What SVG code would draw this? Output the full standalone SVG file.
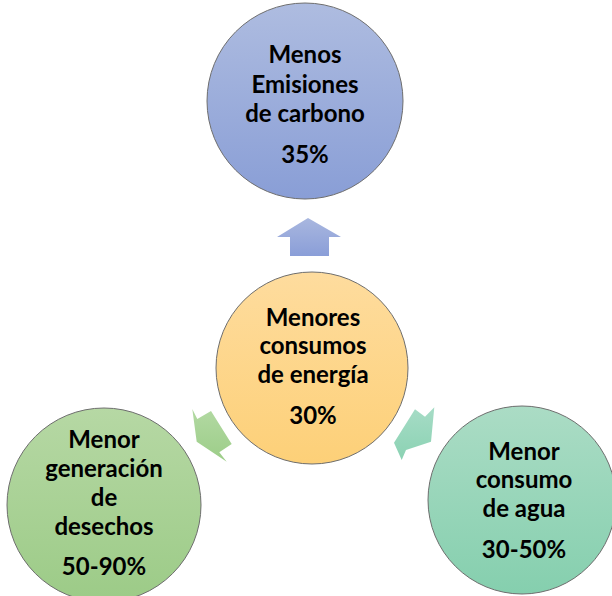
<svg xmlns="http://www.w3.org/2000/svg" width="612" height="596" viewBox="0 0 612 596">
<defs>
<linearGradient id="gBlue" x1="0" y1="0" x2="0" y2="1"><stop offset="0" stop-color="#aebce0"/><stop offset="1" stop-color="#899ed6"/></linearGradient>
<linearGradient id="gOrange" x1="0" y1="0" x2="0" y2="1"><stop offset="0" stop-color="#fedc9e"/><stop offset="1" stop-color="#fdd078"/></linearGradient>
<linearGradient id="gGreen" x1="0" y1="0" x2="0" y2="1"><stop offset="0" stop-color="#b6d8a4"/><stop offset="1" stop-color="#9ccb87"/></linearGradient>
<linearGradient id="gTeal" x1="0" y1="0" x2="0" y2="1"><stop offset="0" stop-color="#abdcc5"/><stop offset="1" stop-color="#85cfae"/></linearGradient>
<linearGradient id="aBlue" x1="0" y1="0" x2="0" y2="1"><stop offset="0" stop-color="#a9b7df"/><stop offset="1" stop-color="#8a9ed8"/></linearGradient>
<linearGradient id="aGreen" x1="0" y1="0" x2="0" y2="1"><stop offset="0" stop-color="#b2d9a2"/><stop offset="1" stop-color="#9ccd88"/></linearGradient>
<linearGradient id="aTeal" x1="0" y1="0" x2="0" y2="1"><stop offset="0" stop-color="#a6dcc6"/><stop offset="1" stop-color="#8bd2b3"/></linearGradient>
</defs>
<style>
.c{stroke:#6e6e6e;stroke-width:1}
.t{font-family:Lato,"Liberation Sans",sans-serif;font-weight:bold;font-size:24px;fill:#000;text-anchor:middle}
</style>
<rect width="612" height="596" fill="#ffffff"/>
<g id="connectors">
<polygon points="308,218 341,237 329,237 329,256 290,256 290,237 277,237" fill="url(#aBlue)"/>
<polygon points="192.3,409 197.3,419 211,411 231.7,444 219.3,452.3 226.7,461.7 196.7,441.7" fill="url(#aGreen)"/>
<polygon points="434.3,407.3 431,441.7 406,450 401.7,460 394,442.7 415,409.3 425,416.7" fill="url(#aTeal)"/>
</g>
<g id="node-carbono">
<circle class="c" cx="305" cy="101" r="98" fill="url(#gBlue)"/>
<text class="t" x="305" y="63">Menos</text>
<text class="t" x="305" y="93">Emisiones</text>
<text class="t" x="305" y="122">de carbono</text>
<text class="t" x="305" y="163">35%</text>
</g>
<g id="node-energia">
<circle class="c" cx="312" cy="368" r="96" fill="url(#gOrange)"/>
<text class="t" x="313" y="326">Menores</text>
<text class="t" x="313" y="354">consumos</text>
<text class="t" x="313" y="383">de energía</text>
<text class="t" x="313" y="424">30%</text>
</g>
<g id="node-desechos">
<circle class="c" cx="104" cy="505" r="97" fill="url(#gGreen)"/>
<text class="t" x="104" y="448">Menor</text>
<text class="t" x="104" y="477">generación</text>
<text class="t" x="104" y="506">de</text>
<text class="t" x="104" y="535">desechos</text>
<text class="t" x="104" y="575">50-90%</text>
</g>
<g id="node-agua">
<circle class="c" cx="522" cy="500" r="94" fill="url(#gTeal)"/>
<text class="t" x="524" y="460">Menor</text>
<text class="t" x="524" y="488">consumo</text>
<text class="t" x="524" y="517">de agua</text>
<text class="t" x="524" y="558">30-50%</text>
</g>
</svg>
